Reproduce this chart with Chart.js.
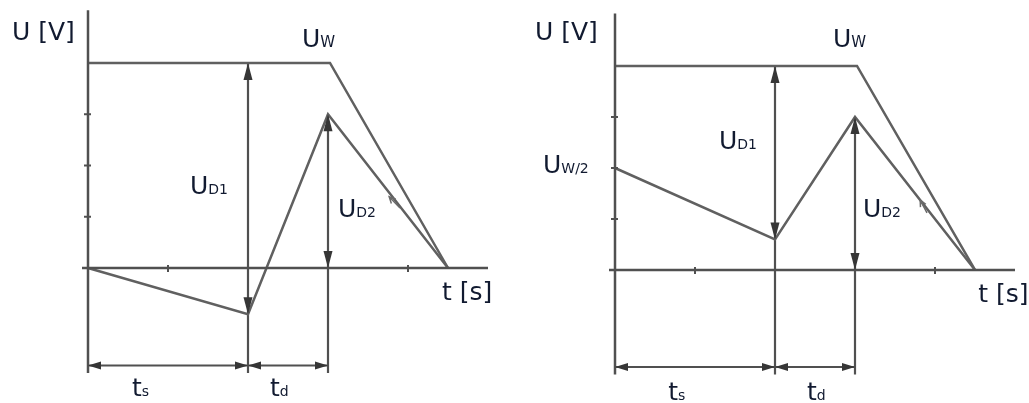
<!DOCTYPE html>
<html>
<head>
<meta charset="utf-8">
<script src="https://cdn.jsdelivr.net/npm/chart.js@4/dist/chart.umd.min.js"></script>
<style>
  body { margin: 0; background: #fff; }
  .panel { position: absolute; top: 0; height: 403px; }
</style>
</head>
<body>
<div class="panel" style="left:0;width:520px"><canvas id="chartLeft" width="520" height="403"></canvas></div>
<div class="panel" style="left:520px;width:509px"><canvas id="chartRight" width="509" height="403"></canvas></div>
<script>
// time points of the voltage curve: start, end of ts, end of td, back to zero
const tCurve = [0, 4, 6, 9];
const uCurveLeft = [0, -0.9, 3, 0];
const uCurveRight = [2, 0.6, 3, 0];

// supply voltage Uw and its fall-off
const uW = 4;
const tKnee = 6.05;
const tZero = 9;

// axis extents and dimension line level
const tAxis = [-0.15, 10];
const uAxis = [5.03, -2.05];
const uDim = -1.9;

const xTicks = [2, 8];
const yTicks = [1, 2, 3];

const LINE = "#606060";
const AXIS = "#505050";
const TEXT = "#111a30";
const FONT = "DejaVu Sans";

function pts(xs, ys) {
  return xs.map((x, i) => ({ x: x, y: ys[i] }));
}

function serie(data, color, width) {
  return {
    data: data,
    showLine: true,
    borderColor: color || LINE,
    borderWidth: width || 2.5,
    pointRadius: 0,
    fill: false,
    tension: 0
  };
}

// arrowheads, ticks and labels drawn on top of the lines
const decorPlugin = {
  id: "decor",
  afterDatasetsDraw(chart, args, opts) {
    const ctx = chart.ctx;
    const sx = chart.scales.x;
    const sy = chart.scales.y;

    ctx.save();
    ctx.strokeStyle = AXIS;
    ctx.lineWidth = 2;
    yTicks.forEach(v => {
      const py = sy.getPixelForValue(v);
      const px = sx.getPixelForValue(0);
      ctx.beginPath();
      ctx.moveTo(px - 4, py);
      ctx.lineTo(px + 3, py);
      ctx.stroke();
    });
    xTicks.forEach(v => {
      const px = sx.getPixelForValue(v);
      const py = sy.getPixelForValue(0);
      ctx.beginPath();
      ctx.moveTo(px, py - 3);
      ctx.lineTo(px, py + 4);
      ctx.stroke();
    });

    // small pointer next to UD2
    if (opts.pointer) {
      const p = opts.pointer;
      const hx = sx.getPixelForValue(p.head[0]);
      const hy = sy.getPixelForValue(p.head[1]);
      const tx = sx.getPixelForValue(p.tail[0]);
      const ty = sy.getPixelForValue(p.tail[1]);
      const ang = Math.atan2(hy - ty, hx - tx);
      ctx.lineWidth = 1.5;
      ctx.strokeStyle = "#6a6a6a";
      ctx.beginPath();
      ctx.moveTo(tx, ty);
      ctx.lineTo(hx, hy);
      ctx.moveTo(hx - 7 * Math.cos(ang - 0.45), hy - 7 * Math.sin(ang - 0.45));
      ctx.lineTo(hx, hy);
      ctx.lineTo(hx - 7 * Math.cos(ang + 0.45), hy - 7 * Math.sin(ang + 0.45));
      ctx.stroke();
    }

    ctx.fillStyle = "#363636";
    (opts.arrows || []).forEach(a => {
      const px = sx.getPixelForValue(a.x);
      const py = sy.getPixelForValue(a.y);
      const len = a.len || 17;
      const half = a.half || 4.5;
      ctx.beginPath();
      ctx.moveTo(px, py);
      if (a.dir === "up") {
        ctx.lineTo(px - half, py + len);
        ctx.lineTo(px + half, py + len);
      } else if (a.dir === "down") {
        ctx.lineTo(px - half, py - len);
        ctx.lineTo(px + half, py - len);
      } else if (a.dir === "left") {
        ctx.lineTo(px + len, py - half);
        ctx.lineTo(px + len, py + half);
      } else {
        ctx.lineTo(px - len, py - half);
        ctx.lineTo(px - len, py + half);
      }
      ctx.closePath();
      ctx.fill();
    });

    ctx.fillStyle = TEXT;
    ctx.textBaseline = "alphabetic";
    (opts.labels || []).forEach(l => {
      let px = sx.getPixelForValue(l.x);
      const py = sy.getPixelForValue(l.y);
      l.parts.forEach(p => {
        ctx.font = p[1] + "px '" + FONT + "'";
        ctx.fillText(p[0], px, py);
        px += ctx.measureText(p[0]).width;
      });
    });
    ctx.restore();
  }
};

function dimArrows(uLow) {
  return [
    { x: tCurve[1], y: uW, dir: "up" },
    { x: tCurve[1], y: uLow, dir: "down" },
    { x: tCurve[2], y: 3, dir: "up" },
    { x: tCurve[2], y: 0, dir: "down" },
    { x: 0, y: uDim, dir: "left", len: 13, half: 4 },
    { x: tCurve[1], y: uDim, dir: "right", len: 13, half: 4 },
    { x: tCurve[1], y: uDim, dir: "left", len: 13, half: 4 },
    { x: tCurve[2], y: uDim, dir: "right", len: 13, half: 4 }
  ];
}

function buildChart(canvasId, uCurve, range, labels, pointer) {
  const datasets = [
    serie(pts([0, 0], uAxis), AXIS, 2.5),
    serie(pts(tAxis, [0, 0]), AXIS, 2.5),
    serie(pts([0, tKnee, tZero], [uW, uW, 0])),
    serie(pts(tCurve, uCurve)),
    serie(pts([tCurve[1], tCurve[1]], [uW, uAxis[1]]), AXIS, 2.2),
    serie(pts([tCurve[2], tCurve[2]], [uCurve[2], uAxis[1]]), AXIS, 2.2),
    serie(pts([0, tCurve[2]], [uDim, uDim]), AXIS, 2)
  ];

  return new Chart(document.getElementById(canvasId), {
    type: "scatter",
    data: { datasets },
    options: {
      responsive: false,
      animation: false,
      events: [],
      layout: { padding: 0 },
      scales: {
        x: { type: "linear", display: false, min: range.x[0], max: range.x[1] },
        y: { type: "linear", display: false, min: range.y[0], max: range.y[1] }
      },
      plugins: {
        legend: { display: false },
        tooltip: { enabled: false },
        decor: { arrows: dimArrows(uCurve[1]), labels: labels, pointer: pointer }
      }
    },
    plugins: [decorPlugin]
  });
}

buildChart("chartLeft", uCurveLeft, { x: [-2.2, 10.8], y: [-2.634, 5.229] }, [
  { x: -1.9, y: 4.45, parts: [["U [V]", 25]] },
  { x: 5.35, y: 4.31, parts: [["U", 25], ["W", 15]] },
  { x: 2.55, y: 1.44, parts: [["U", 25], ["D1", 14]] },
  { x: 6.25, y: 1.0, parts: [["U", 25], ["D2", 14]] },
  { x: 8.85, y: -0.62, parts: [["t [s]", 25]] },
  { x: 1.1, y: -2.5, parts: [["t", 25], ["s", 14]] },
  { x: 4.55, y: -2.5, parts: [["t", 25], ["d", 14]] }
], { head: [7.53, 1.39], tail: [7.8, 1.17] });

buildChart("chartRight", uCurveRight, { x: [-2.375, 10.35], y: [-2.608, 5.294] }, [
  { x: -2.0, y: 4.51, parts: [["U [V]", 25]] },
  { x: 5.45, y: 4.37, parts: [["U", 25], ["W", 15]] },
  { x: -1.8, y: 1.9, parts: [["U", 25], ["W/2", 14]] },
  { x: 2.6, y: 2.37, parts: [["U", 25], ["D1", 14]] },
  { x: 6.2, y: 1.04, parts: [["U", 25], ["D2", 14]] },
  { x: 9.08, y: -0.63, parts: [["t [s]", 25]] },
  { x: 1.33, y: -2.55, parts: [["t", 25], ["s", 14]] },
  { x: 4.8, y: -2.55, parts: [["t", 25], ["d", 14]] }
], { head: [7.63, 1.37], tail: [7.8, 1.12] });
</script>
</body>
</html>
